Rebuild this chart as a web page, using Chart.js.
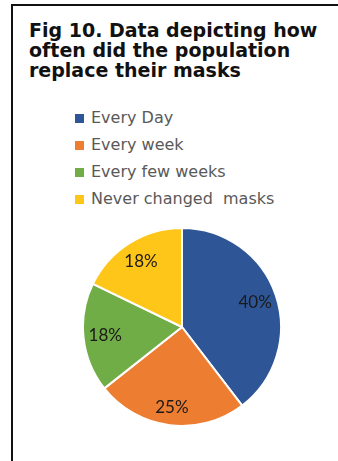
<!DOCTYPE html>
<html>
<head>
<meta charset="utf-8">
<script src="https://cdn.jsdelivr.net/npm/chart.js@4/dist/chart.umd.min.js"></script>
<style>
  html, body { margin: 0; padding: 0; background: #fff; }
  body { width: 338px; height: 461px; position: relative; overflow: hidden; }
  .frame {
    position: absolute; left: 11px; top: 4px; right: -4px; bottom: -4px;
    border-left: 2px solid #111; border-top: 2px solid #111;
  }
  .title {
    position: absolute; left: 29px; top: 20px; width: 310px;
    font-family: "DejaVu Sans", sans-serif; font-weight: bold;
    font-size: 19px; line-height: 20px; color: #111; white-space: nowrap;
  }
  .legend {
    position: absolute; left: 75px; top: 108px;
    font-family: "DejaVu Sans", sans-serif; font-size: 16px; color: #595959;
    list-style: none; margin: 0; padding: 0;
  }
  .legend li { height: 27px; line-height: 20px; white-space: pre; }
  .legend span {
    display: inline-block; width: 9px; height: 9px; margin-right: 7px;
    vertical-align: 0px;
  }
  .pie { position: absolute; left: 82px; top: 227px; width: 200px; height: 200px; }
</style>
</head>
<body>
<div class="frame"></div>
<div class="title">Fig 10. Data depicting how<br>often did the population<br>replace their masks</div>
<ul class="legend" id="legend"></ul>
<div class="pie"><canvas id="chart"></canvas></div>
<script>
  const labels = ['Every Day', 'Every week', 'Every few weeks', 'Never changed  masks']
  const shares = [40, 25, 18, 18]
  const colors = ['#2E5596', '#ED7D31', '#70AD47', '#FFC61A']

  // Легенда списком, как в исходной таблице
  const legend = document.getElementById('legend')
  labels.forEach((l, i) => {
    const li = document.createElement('li')
    const box = document.createElement('span')
    box.style.background = colors[i]
    li.append(box, l)
    legend.append(li)
  })

  // Подписи процентов внутри секторов
  const sliceLabels = {
    id: 'sliceLabels',
    afterDatasetsDraw(chart) {
      const ctx = chart.ctx
      const meta = chart.getDatasetMeta(0)
      ctx.save()
      ctx.font = '17px Lato, sans-serif'
      ctx.fillStyle = '#1a1a1a'
      ctx.textAlign = 'center'
      ctx.textBaseline = 'middle'
      meta.data.forEach((arc, i) => {
        const p = arc.getProps(['x', 'y', 'startAngle', 'endAngle', 'outerRadius'], true)
        const a = (p.startAngle + p.endAngle) / 2
        const r = p.outerRadius * (i === 1 ? 0.82 : 0.78)
        ctx.fillText(shares[i] + '%', p.x + Math.cos(a) * r, p.y + Math.sin(a) * r)
      })
      ctx.restore()
    }
  }

  new Chart(document.getElementById('chart'), {
    type: 'pie',
    data: {
      labels: labels,
      datasets: [{
        data: shares,
        backgroundColor: colors,
        borderColor: '#fff',
        borderWidth: 2
      }]
    },
    options: {
      responsive: true,
      maintainAspectRatio: false,
      animation: false,
      layout: { padding: 0 },
      plugins: {
        legend: { display: false },
        tooltip: { enabled: false }
      }
    },
    plugins: [sliceLabels]
  })
</script>
</body>
</html>
